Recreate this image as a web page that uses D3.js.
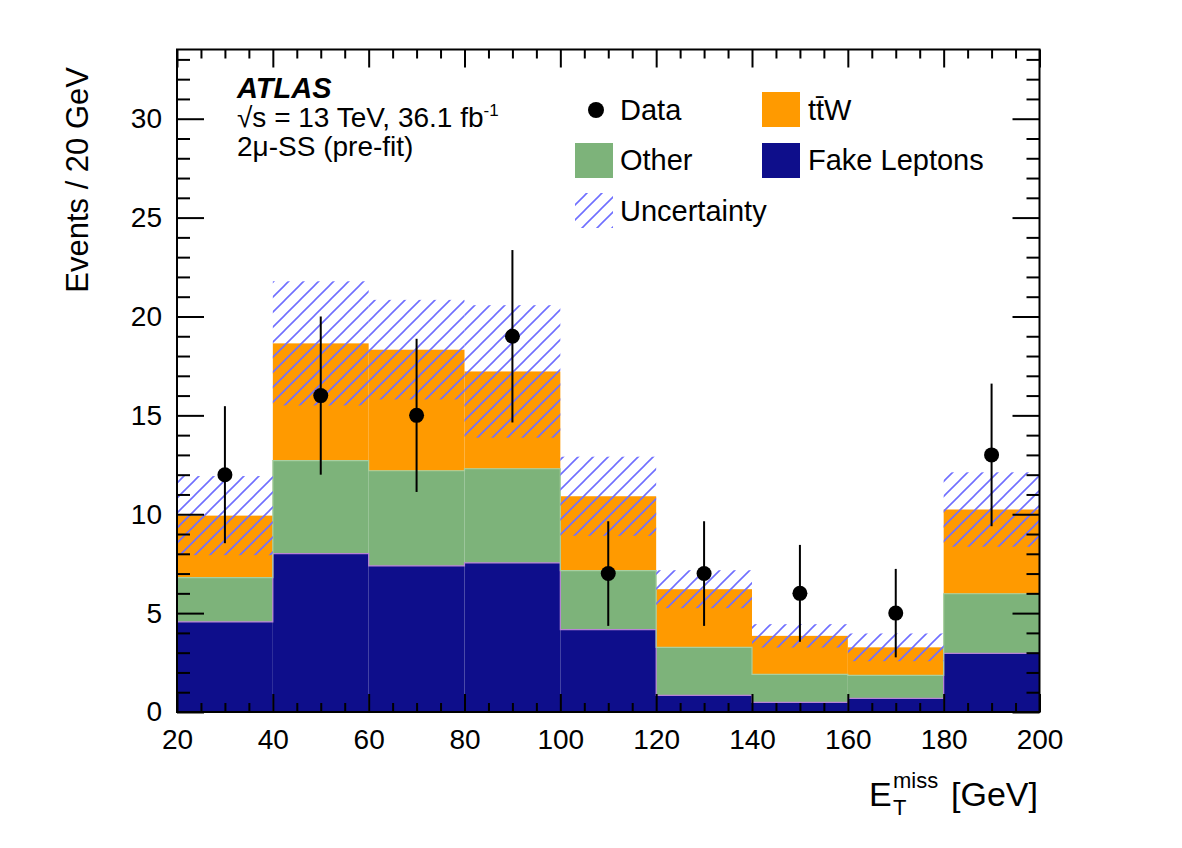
<!DOCTYPE html>
<html>
<head>
<meta charset="utf-8">
<script src="https://cdn.jsdelivr.net/npm/d3@7"></script>
<style>
  html, body { margin: 0; padding: 0; background: #fff; }
  svg { display: block; }
  text { font-family: "Liberation Sans", Arial, Helvetica, sans-serif; fill: #000; }
</style>
</head>
<body>
<svg id="chart" width="1182" height="848"></svg>
<script>
// ---------------- data ----------------
const binEdges   = [20, 40, 60, 80, 100, 120, 140, 160, 180, 200];
const fakeLeptons = [4.56, 8.01, 7.39, 7.54, 4.17, 0.84, 0.49, 0.69, 2.96];
const other       = [2.23, 4.70, 4.81, 4.76, 2.98, 2.43, 1.41, 1.16, 3.02];
const ttW         = [3.14, 5.93, 6.12, 4.92, 3.76, 2.94, 1.95, 1.42, 4.26];
const uncertainty = [2.00, 3.14, 2.52, 3.35, 2.00, 0.96, 0.59, 0.70, 1.88];
const dataCounts  = [12, 16, 15, 19, 7, 7, 6, 5, 13];
const xMajorTicks = [20, 40, 60, 80, 100, 120, 140, 160, 180, 200];
const yMajorTicks = [0, 5, 10, 15, 20, 25, 30];

// ---------------- layout ----------------
const svg = d3.select("#chart");
const L = 177, R = 1039.5, T = 49.5, B = 712;
const x = d3.scaleLinear().domain([20, 200]).range([L, R]);
const y = d3.scaleLinear().domain([0, 33.5]).range([B, T]);

const colors = { fake: "#0e0e8b", other: "#7db37a", ttW: "#ff9a00" };

// hatch pattern
const defs = svg.append("defs");
const pat = defs.append("pattern").attr("id", "hatch")
  .attr("patternUnits", "userSpaceOnUse").attr("width", 15).attr("height", 15);
pat.append("path").attr("d", "M-2,17 L17,-2 M-5,5 L5,-5 M10,20 L20,10")
  .attr("stroke", "#6f6fff").attr("stroke-width", 1.6);
defs.append("clipPath").attr("id", "plotclip").append("rect")
  .attr("x", L).attr("y", T).attr("width", R - L).attr("height", B - T);

// table for stacking
const rows = binEdges.slice(0, -1).map((lo, i) => ({
  lo, hi: binEdges[i + 1],
  fake: fakeLeptons[i], other: other[i], ttW: ttW[i],
  unc: uncertainty[i], data: dataCounts[i]
}));
const keys = ["fake", "other", "ttW"];
const stacked = d3.stack().keys(keys)(rows);

const gPlot = svg.append("g").attr("clip-path", "url(#plotclip)");

stacked.forEach(layer => {
  gPlot.append("g").selectAll("rect").data(layer).join("rect")
    .attr("x", d => x(d.data.lo))
    .attr("width", d => x(d.data.hi) - x(d.data.lo))
    .attr("y", d => y(d[1]))
    .attr("height", d => y(d[0]) - y(d[1]))
    .attr("fill", colors[layer.key]);
});

// thin histogram outlines at layer tops
function stepPath(layer) {
  const pts = layer.map(d => [d.data.lo, d[1]]).concat([[200, layer[layer.length - 1][1]]]);
  return d3.line().curve(d3.curveStepAfter).x(d => x(d[0])).y(d => y(d[1]))(pts);
}
gPlot.append("path").attr("d", stepPath(stacked[0]))
  .attr("fill", "none").attr("stroke", "#b784d6").attr("stroke-width", 1.2);
gPlot.append("path").attr("d", stepPath(stacked[1]))
  .attr("fill", "none").attr("stroke", "#a9cfa0").attr("stroke-width", 1.2);

// uncertainty band
const total = stacked[2];
gPlot.append("g").selectAll("rect").data(total).join("rect")
  .attr("x", d => x(d.data.lo))
  .attr("width", d => x(d.data.hi) - x(d.data.lo))
  .attr("y", d => y(d[1] + d.data.unc))
  .attr("height", d => y(d[1] - d.data.unc) - y(d[1] + d.data.unc))
  .attr("fill", "url(#hatch)");

// data points
const gData = svg.append("g");
gData.selectAll("line").data(rows).join("line")
  .attr("x1", d => x((d.lo + d.hi) / 2)).attr("x2", d => x((d.lo + d.hi) / 2))
  .attr("y1", d => y(d.data + Math.sqrt(d.data)))
  .attr("y2", d => y(d.data - Math.sqrt(d.data)))
  .attr("stroke", "#000").attr("stroke-width", 2);
gData.selectAll("circle").data(rows).join("circle")
  .attr("cx", d => x((d.lo + d.hi) / 2)).attr("cy", d => y(d.data))
  .attr("r", 7.5).attr("fill", "#000");

// ---------------- axes ----------------
const xMinor = d3.range(20, 200.1, 5).filter(v => !xMajorTicks.includes(v));
const yMinor = d3.range(0, 33.5, 1).filter(v => !yMajorTicks.includes(v));

function styleAxis(g) {
  g.select(".domain").remove();
  g.selectAll(".tick line").attr("stroke", "#000").attr("stroke-width", 2);
  g.selectAll(".tick text").attr("font-size", 28)
    .attr("font-family", '"Liberation Sans", Arial, Helvetica, sans-serif');
}

svg.append("g").attr("transform", `translate(0,${B})`)
  .call(d3.axisBottom(x).tickValues(xMajorTicks).tickSize(-18).tickPadding(17).tickFormat(d3.format("d")))
  .call(styleAxis);
svg.append("g").attr("transform", `translate(0,${B})`)
  .call(d3.axisBottom(x).tickValues(xMinor).tickSize(-9).tickFormat(""))
  .call(styleAxis);
svg.append("g").attr("transform", `translate(0,${T})`)
  .call(d3.axisTop(x).tickValues(xMajorTicks).tickSize(-18).tickFormat(""))
  .call(styleAxis);
svg.append("g").attr("transform", `translate(0,${T})`)
  .call(d3.axisTop(x).tickValues(xMinor).tickSize(-9).tickFormat(""))
  .call(styleAxis);

svg.append("g").attr("transform", `translate(${L},0)`)
  .call(d3.axisLeft(y).tickValues(yMajorTicks).tickSize(-27).tickPadding(15).tickFormat(d3.format("d")))
  .call(styleAxis);
svg.append("g").attr("transform", `translate(${L},0)`)
  .call(d3.axisLeft(y).tickValues(yMinor).tickSize(-13).tickFormat(""))
  .call(styleAxis);
svg.append("g").attr("transform", `translate(${R},0)`)
  .call(d3.axisRight(y).tickValues(yMajorTicks).tickSize(-27).tickFormat(""))
  .call(styleAxis);
svg.append("g").attr("transform", `translate(${R},0)`)
  .call(d3.axisRight(y).tickValues(yMinor).tickSize(-13).tickFormat(""))
  .call(styleAxis);

svg.append("rect").attr("x", L).attr("y", T).attr("width", R - L).attr("height", B - T)
  .attr("fill", "none").attr("stroke", "#000").attr("stroke-width", 2);

// axis titles
svg.append("text").attr("transform", "translate(88,67) rotate(-90)")
  .attr("text-anchor", "end").attr("font-size", 31).text("Events / 20 GeV");

svg.append("text").attr("x", 1038).attr("y", 806).attr("text-anchor", "end")
  .attr("font-size", 34).text("[GeV]");
svg.append("text").attr("x", 869).attr("y", 806).attr("font-size", 34).text("E");
svg.append("text").attr("x", 893).attr("y", 815).attr("font-size", 22).text("T");
svg.append("text").attr("x", 893).attr("y", 788).attr("font-size", 22).text("miss");

// ATLAS label
svg.append("text").attr("x", 237).attr("y", 98).attr("font-size", 29)
  .attr("font-weight", "bold").attr("font-style", "italic").text("ATLAS");
const l2 = svg.append("text").attr("x", 237).attr("y", 127).attr("font-size", 28);
l2.append("tspan").text("√s = 13 TeV, 36.1 fb");
l2.append("tspan").attr("font-size", 17).attr("dy", -11).text("-1");
svg.append("text").attr("x", 237).attr("y", 156).attr("font-size", 28).text("2μ-SS (pre-fit)");

// legend
const legend = svg.append("g");
legend.append("circle").attr("cx", 596).attr("cy", 110).attr("r", 8).attr("fill", "#000");
legend.append("text").attr("x", 620).attr("y", 120).attr("font-size", 29).text("Data");
legend.append("rect").attr("x", 762).attr("y", 92).attr("width", 38).attr("height", 35).attr("fill", colors.ttW);
legend.append("text").attr("x", 808).attr("y", 120).attr("font-size", 29).text("tt\u0304W");
legend.append("rect").attr("x", 575).attr("y", 143).attr("width", 38).attr("height", 35).attr("fill", colors.other);
legend.append("text").attr("x", 620).attr("y", 170).attr("font-size", 29).text("Other");
legend.append("rect").attr("x", 762).attr("y", 143).attr("width", 38).attr("height", 35).attr("fill", colors.fake);
legend.append("text").attr("x", 808).attr("y", 170).attr("font-size", 29).text("Fake Leptons");
legend.append("rect").attr("x", 575).attr("y", 193).attr("width", 38).attr("height", 35).attr("fill", "url(#hatch)");
legend.append("text").attr("x", 620).attr("y", 221).attr("font-size", 29).text("Uncertainty");
</script>
</body>
</html>
